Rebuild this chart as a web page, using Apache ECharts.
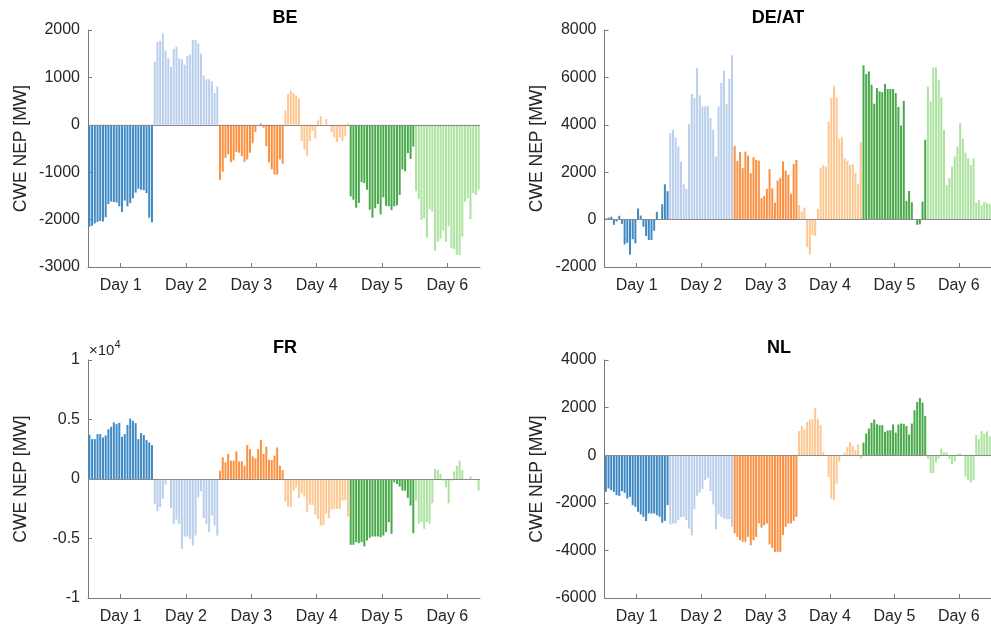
<!DOCTYPE html>
<html>
<head>
<meta charset="utf-8">
<script src="https://cdn.jsdelivr.net/npm/echarts@6/dist/echarts.min.js"></script>
<style>
  html, body { margin: 0; padding: 0; background: #ffffff; }
  #chart { width: 991px; height: 632px; }
</style>
</head>
<body>
<div id="chart"></div>
<script>
// Hourly CWE net export positions over six days, four bidding zones (MW)
const dayLabels = ['Day 1', 'Day 2', 'Day 3', 'Day 4', 'Day 5', 'Day 6'];
const dayColors = ['#3f8ac4', '#bacfeb', '#fa9040', '#fdc792', '#48a948', '#ace3a0'];
const hoursPerDay = 24;

const beValues = [
  -2150, -2130, -2080, -2050, -2030, -2040, -1950, -1670, -1620, -1630, -1640, -1720, -1840, -1600, -1720, -1650, -1550, -1430, -1350, -1370, -1380, -1440, -1960, -2060,
  1330, 1750, 1770, 1930, 1570, 1400, 1220, 1600, 1650, 1400, 1380, 1270, 1450, 1480, 1790, 1790, 1720, 1500, 1040, 960, 960, 920, 670, 810,
  -1160, -990, -700, -620, -790, -750, -570, -590, -660, -780, -730, -590, -390, -150, -20, 30, -60, -450, -790, -940, -1050, -1050, -730, -820,
  300, 650, 720, 670, 620, 550, -340, -530, -650, -340, -130, -290, 90, 180, -20, 120, -20, -160, -270, -360, -270, -340, -230, 30,
  -1510, -1580, -1750, -1650, -1210, -1230, -1370, -1790, -1960, -1760, -1670, -1890, -1530, -1710, -1720, -1800, -1720, -1700, -1480, -940, -980, -600, -720, -460,
  -1400, -1570, -2010, -1970, -2380, -1780, -1830, -2660, -2470, -2400, -2230, -2470, -2140, -2600, -2620, -2740, -2750, -2360, -1620, -1550, -1990, -1440, -1480, -1370
];

const deatValues = [
  50, 80, 120, -220, -80, 160, -180, -1050, -980, -1480, -830, -1000, 470, 170, -300, -690, -860, -860, -470, 330, 20, 650, 1490, 1200,
  3650, 3790, 3470, 3090, 2450, 1490, 1300, 4030, 5300, 5130, 6390, 5240, 4780, 4780, 4800, 4280, 3790, 2660, 4780, 5760, 6280, 4890, 5940, 6930,
  3110, 2480, 2850, 2170, 2870, 2700, 1960, 2630, 2520, 2490, 900, 1000, 1300, 2130, 1320, 720, 1650, 1750, 2450, 2070, 1890, 1090, 2340, 2520,
  620, 340, 510, -1170, -1470, -650, -690, 450, 2170, 2310, 2240, 4140, 5130, 5650, 5150, 3410, 3470, 2590, 2480, 2310, 2340, 1960, 1490, 3270,
  6510, 6140, 6250, 5690, 4890, 5550, 5410, 5380, 5720, 5510, 5510, 5510, 5340, 4750, 3970, 5010, 790, 1210, 730, 20, -220, -200, 760, 3370,
  5620, 4990, 6420, 6420, 5900, 5160, 3790, 1470, 1750, 2240, 2660, 3090, 4070, 3410, 2830, 2590, 2310, 2590, 720, 830, 620, 750, 700, 650
];

const frValues = [
  3720, 3350, 3350, 3770, 3770, 3490, 3660, 4190, 4390, 4750, 4610, 4720, 3550, 3770, 4550, 5080, 4890, 4690, 3350, 3860, 3690, 3270, 3070, 2850,
  -2100, -2710, -2370, -1680, -480, -80, -2430, -3770, -3410, -3770, -5870, -4830, -4830, -5030, -5590, -4750, -1540, -1030, -3270, -3770, -4470, -3070, -3910, -4750,
  700, 1820, 1400, 2100, 1540, 1540, 2320, 1480, 1480, 1120, 2850, 2510, 1900, 1730, 2510, 3270, 2100, 2710, 1620, 1590, 1960, 2650, 1120, 750,
  -1900, -2320, -2370, -980, -700, -1590, -1200, -1480, -2790, -2180, -2180, -3020, -3350, -3910, -3910, -2930, -3300, -2570, -2510, -2510, -2510, -1820, -1760, -3160,
  -5530, -5530, -5310, -5390, -5310, -5670, -5170, -4940, -4830, -4830, -4830, -4890, -4750, -4470, -3630, -4610, -280, -420, -640, -980, -980, -1590, -2240, -4550,
  -1820, -3770, -3630, -4190, -3630, -3770, -2040, 840, 750, 420, -140, -700, -2040, -140, 640, 1120, 1540, 750, -60, 0, 220, -80, -80, -980
];

const nlValues = [
  -1540, -1400, -1470, -1540, -1680, -1710, -1510, -1580, -1820, -1750, -2100, -2170, -2380, -2490, -2590, -2770, -2450, -2450, -2450, -2520, -2590, -2840, -2760, -2100,
  -2910, -2870, -2870, -2730, -2600, -2600, -2730, -3080, -3360, -2270, -1710, -1570, -1430, -1050, -950, -1510, -2070, -3110, -2490, -2590, -2660, -2690, -2690, -3010,
  -3290, -3430, -3570, -3640, -3640, -3430, -3780, -3570, -3430, -2870, -3050, -2940, -2870, -3750, -3890, -4060, -4060, -4060, -3360, -3010, -2870, -2870, -2760, -2590,
  1010, 1230, 1090, 1400, 1500, 1510, 1990, 1510, 1260, 140, 0, -910, -1820, -1890, -1190, -280, 0, 110, 350, 550, 390, 210, 450, -140,
  530, 910, 1120, 1360, 1500, 1300, 1260, 1260, 980, 1040, 1050, 1290, 950, 1290, 1330, 1320, 1230, 870, 1330, 1890, 2240, 2410, 2210, 1650,
  -150, -760, -750, -300, -150, 280, 120, 110, -170, -390, -250, 40, 70, 10, -900, -1050, -1150, -1050, 840, 670, 1010, 900, 1000, 800
];

// Axis ranges per panel (min, max, tick step)
const beRange = [-3000, 2000, 1000];
const deatRange = [-2000, 8000, 2000];
const frRange = [-10000, 10000, 5000];
const nlRange = [-6000, 4000, 2000];

const panelTitles = ['BE', 'DE/AT', 'FR', 'NL'];
const yAxisTitle = 'CWE NEP [MW]';

const FONT = '"Liberation Sans", Arial, Helvetica, sans-serif';
const AXIS_COLOR = '#7a7a7a';
const TEXT_COLOR = '#262626';

// Panel placement on the page
const layouts = [
  { left: 88, top: 30, width: 392, height: 237, titleX: 285, titleY: 18 },
  { left: 604.5, top: 30, width: 392, height: 237, titleX: 778, titleY: 18 },
  { left: 88, top: 360, width: 392, height: 238, titleX: 285, titleY: 348 },
  { left: 604.5, top: 360, width: 392, height: 238, titleX: 779, titleY: 348 }
];

const panels = [
  { values: beValues, range: beRange, scale: 1 },
  { values: deatValues, range: deatRange, scale: 1 },
  { values: frValues, range: frRange, scale: 1e4 },
  { values: nlValues, range: nlRange, scale: 1 }
];

const totalHours = dayLabels.length * hoursPerDay;
const dayTicks = dayLabels.map((_, d) => d * hoursPerDay + hoursPerDay / 2 + 0.5);

const grid = [], xAxis = [], yAxis = [], series = [], graphic = [];

panels.forEach((p, i) => {
  const L = layouts[i];
  grid.push({ left: L.left, top: L.top, width: L.width, height: L.height, containLabel: false });

  xAxis.push({
    gridIndex: i,
    type: 'value',
    min: 0.5,
    max: totalHours + 0.5,
    axisLine: { show: true, onZero: false, lineStyle: { color: AXIS_COLOR, width: 1 } },
    axisTick: { show: true, inside: true, length: 4, customValues: dayTicks, lineStyle: { color: AXIS_COLOR } },
    axisLabel: {
      show: true,
      customValues: dayTicks,
      formatter: v => dayLabels[Math.round((v - dayTicks[0]) / hoursPerDay)],
      color: TEXT_COLOR,
      fontFamily: FONT,
      fontSize: 16,
      margin: 11
    },
    splitLine: { show: false }
  });

  yAxis.push({
    gridIndex: i,
    type: 'value',
    min: p.range[0],
    max: p.range[1],
    interval: p.range[2],
    axisLine: { show: true, lineStyle: { color: AXIS_COLOR, width: 1 } },
    axisTick: { show: true, inside: true, length: 4, lineStyle: { color: AXIS_COLOR } },
    axisLabel: {
      color: TEXT_COLOR,
      fontFamily: FONT,
      fontSize: 16,
      margin: 8,
      formatter: v => String(v / p.scale)
    },
    splitLine: { show: false },
    name: yAxisTitle,
    nameLocation: 'middle',
    nameGap: 58,
    nameTextStyle: { color: TEXT_COLOR, fontFamily: FONT, fontSize: 17.5 }
  });

  series.push({
    type: 'bar',
    xAxisIndex: i,
    yAxisIndex: i,
    barWidth: 2,
    data: p.values.map((v, k) => [k + 1, v]),
    itemStyle: {
      color: params => dayColors[Math.floor(params.dataIndex / hoursPerDay)]
    },
    markLine: {
      silent: true,
      symbol: 'none',
      label: { show: false },
      lineStyle: { color: '#8c8c8c', width: 1, type: 'solid' },
      data: [{ yAxis: 0 }]
    }
  });

  graphic.push({
    type: 'text',
    x: L.titleX,
    y: L.titleY,
    style: {
      text: panelTitles[i],
      fill: '#000000',
      font: 'bold 18px ' + FONT,
      textAlign: 'center',
      textVerticalAlign: 'middle'
    }
  });
});

// Exponent marker above the FR value axis
graphic.push({
  type: 'text', x: 89, y: 351,
  style: { text: '\u00d710', fill: TEXT_COLOR, font: '15px ' + FONT, textAlign: 'left', textVerticalAlign: 'middle' }
});
graphic.push({
  type: 'text', x: 114.5, y: 345,
  style: { text: '4', fill: TEXT_COLOR, font: '11px ' + FONT, textAlign: 'left', textVerticalAlign: 'middle' }
});

const chart = echarts.init(document.getElementById('chart'), null, { renderer: 'canvas' });
chart.setOption({
  animation: false,
  backgroundColor: '#ffffff',
  grid, xAxis, yAxis, series, graphic
});
</script>
</body>
</html>
